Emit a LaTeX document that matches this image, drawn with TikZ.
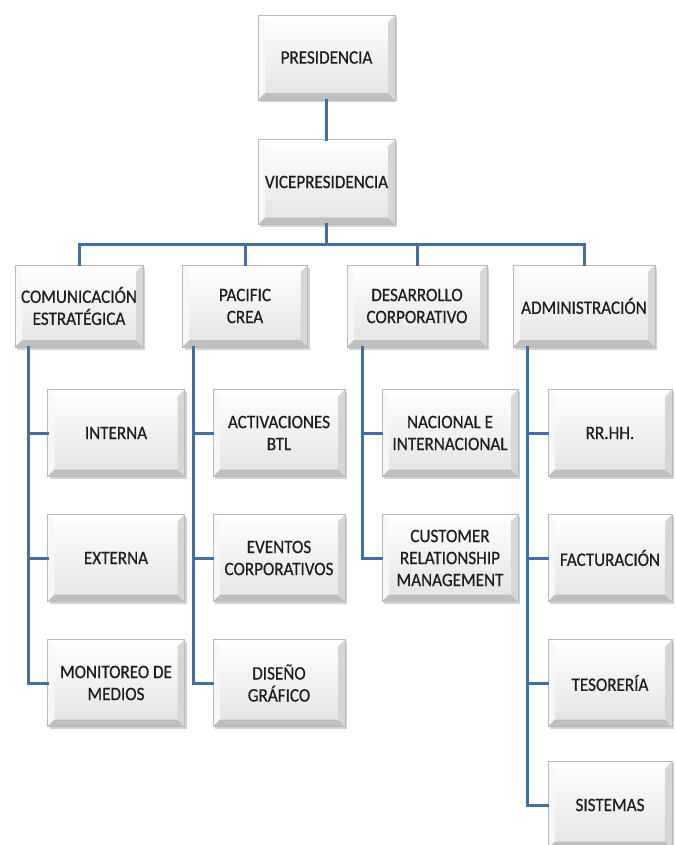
\documentclass[tikz,border=0pt]{standalone}
\usepackage{fontspec}
\setmainfont{Carlito}[FakeStretch=0.9, FakeBold=0.6]
\usetikzlibrary{shadows}
\definecolor{linkblue}{RGB}{62,111,168}
\definecolor{txt}{RGB}{30,30,30}
\tikzset{
  bevelbox/.style={
    rectangle, inner sep=2pt, align=center, text=txt,
    font=\fontsize{19}{22}\selectfont,
    top color=white, bottom color=gray!22,
    draw=gray!55, line width=0.6pt,
    drop shadow={shadow xshift=2pt, shadow yshift=-2.5pt, opacity=0.35},
    path picture={
      \coordinate (nw) at (path picture bounding box.north west);
      \coordinate (ne) at (path picture bounding box.north east);
      \coordinate (sw) at (path picture bounding box.south west);
      \coordinate (se) at (path picture bounding box.south east);
      \fill[white] (nw) -- (ne) -- ([shift={(-7pt,-7pt)}]ne) -- ([shift={(7pt,-7pt)}]nw) -- cycle;
      \fill[gray!6] (nw) -- (sw) -- ([shift={(7pt,7pt)}]sw) -- ([shift={(7pt,-7pt)}]nw) -- cycle;
      \fill[gray!50] (sw) -- (se) -- ([shift={(-7pt,7pt)}]se) -- ([shift={(7pt,7pt)}]sw) -- cycle;
      \fill[gray!32] (ne) -- (se) -- ([shift={(-7pt,7pt)}]se) -- ([shift={(-7pt,-7pt)}]ne) -- cycle;
    }
  },
  link/.style={draw=linkblue, line width=3pt, line cap=rect}
}
\begin{document}
\begin{tikzpicture}[x=1pt,y=-1pt]
\useasboundingbox (0,0) rectangle (675,845);
% level 0/1
\node[bevelbox, minimum width=137pt, minimum height=85pt] (pres) at (326.5,57.5) {PRESIDENCIA};
\node[bevelbox, minimum width=137pt, minimum height=85pt] (vice) at (326.5,182) {VICEPRESIDENCIA};
% level 2
\node[bevelbox, minimum width=128pt, minimum height=82pt] (com) at (79,306) {COMUNICACIÓN\\ESTRATÉGICA};
\node[bevelbox, minimum width=125pt, minimum height=82pt] (pac) at (245,306) {PACIFIC\\CREA};
\node[bevelbox, minimum width=140pt, minimum height=82pt] (des) at (417,306) {DESARROLLO\\CORPORATIVO};
\node[bevelbox, minimum width=142pt, minimum height=82pt] (adm) at (584,306) {ADMINISTRACIÓN};
% level 3
\node[bevelbox, minimum width=137pt, minimum height=87pt] (int) at (116,433) {INTERNA};
\node[bevelbox, minimum width=137pt, minimum height=87pt] (ext) at (116,558) {EXTERNA};
\node[bevelbox, minimum width=137pt, minimum height=87pt] (mon) at (116,683) {MONITOREO DE\\MEDIOS};
\node[bevelbox, minimum width=132pt, minimum height=87pt] (act) at (279,433) {ACTIVACIONES\\BTL};
\node[bevelbox, minimum width=132pt, minimum height=87pt] (eve) at (279,558) {EVENTOS\\CORPORATIVOS};
\node[bevelbox, minimum width=132pt, minimum height=87pt] (dis) at (279,683) {DISEÑO\\GRÁFICO};
\node[bevelbox, minimum width=136pt, minimum height=87pt] (nac) at (450,433) {NACIONAL E\\INTERNACIONAL};
\node[bevelbox, minimum width=136pt, minimum height=87pt] (crm) at (450,558) {CUSTOMER\\RELATIONSHIP\\MANAGEMENT};
\node[bevelbox, minimum width=124pt, minimum height=87pt] (rrh) at (610,433) {RR.HH.};
\node[bevelbox, minimum width=124pt, minimum height=87pt] (fac) at (610,558) {FACTURACIÓN};
\node[bevelbox, minimum width=124pt, minimum height=87pt] (tes) at (610,683) {TESORERÍA};
\node[bevelbox, minimum width=124pt, minimum height=87pt] (sis) at (610,805) {SISTEMAS};
% bus coordinates
\coordinate (bus) at (326.5,244);
\coordinate (c1) at (28,0);
\coordinate (c2) at (193,0);
\coordinate (c3) at (362,0);
\coordinate (c4) at (527,0);
% connectors
\draw[link] (pres.south) -- (vice.north);
\draw[link] (vice.south) -- (bus);
\draw[link] (com.north) |- (bus) -| (adm.north);
\draw[link] (pac.north) -- (pac.north |- bus);
\draw[link] (des.north) -- (des.north |- bus);
\draw[link] (com.south -| c1) |- (mon.west);
\draw[link] (c1 |- int.west) -- (int.west);
\draw[link] (c1 |- ext.west) -- (ext.west);
\draw[link] (pac.south -| c2) |- (dis.west);
\draw[link] (c2 |- act.west) -- (act.west);
\draw[link] (c2 |- eve.west) -- (eve.west);
\draw[link] (des.south -| c3) |- (crm.west);
\draw[link] (c3 |- nac.west) -- (nac.west);
\draw[link] (adm.south -| c4) |- (sis.west);
\draw[link] (c4 |- rrh.west) -- (rrh.west);
\draw[link] (c4 |- fac.west) -- (fac.west);
\draw[link] (c4 |- tes.west) -- (tes.west);
\end{tikzpicture}
\end{document}
